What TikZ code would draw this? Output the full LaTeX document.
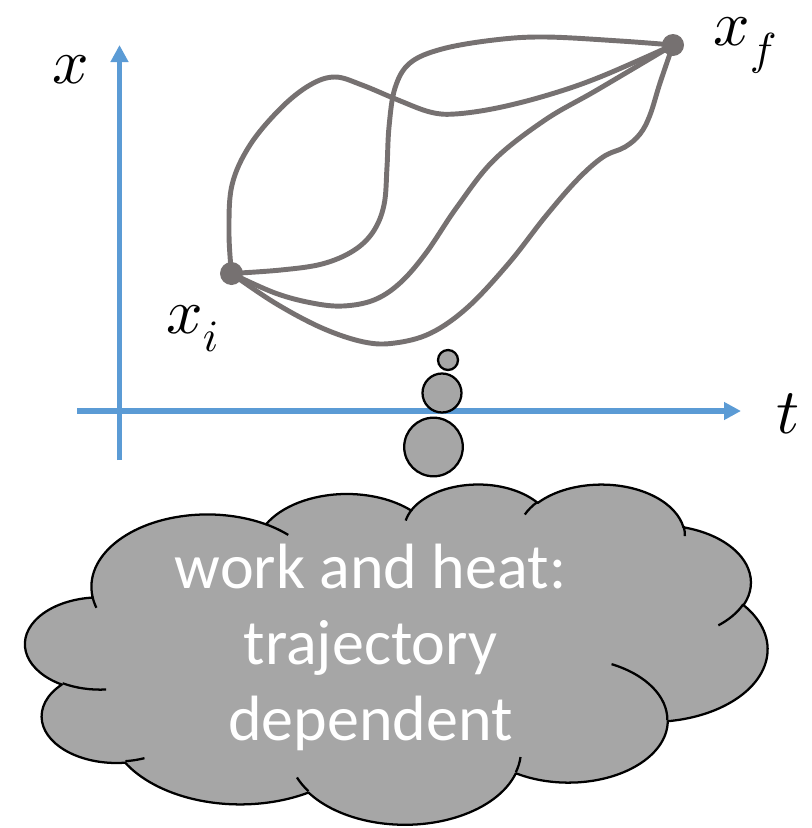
\documentclass[tikz,border=0pt]{standalone}
\usepackage{fontspec}
\newfontfamily\carlito{Carlito}
\DeclareFontFamily{OML}{cmm}{\skewchar\font'177}
\DeclareFontShape{OML}{cmm}{m}{it}{<-> cmmi10}{}
\usetikzlibrary{arrows.meta}
\definecolor{axisblue}{RGB}{91,155,213}
\definecolor{trajgray}{RGB}{118,113,113}
\definecolor{cloudgray}{RGB}{166,166,166}
\tikzset{
  axisline/.style={draw=axisblue, line width=4pt, -{Triangle[length=12.75pt,width=12.75pt]}},
  traj/.style={draw=trajgray, line width=3.7pt, line join=round, line cap=round},
  enddot/.style={fill=trajgray},
  bubble/.style={fill=cloudgray, draw=black, line width=1.7pt},
  mathlbl/.style={font=\fontsize{48}{56}\selectfont, inner sep=0pt},
  ooarc/.style n args={4}{insert path={arc[x radius=#1, y radius=#2,
     start angle={atan2((#1)*sin(#3),(#2)*cos(#3))},
     delta angle={mod(atan2((#1)*sin((#3)+(#4)),(#2)*cos((#3)+(#4)))-atan2((#1)*sin(#3),(#2)*cos(#3))+720,360)}]}}
}
\begin{document}
\begin{tikzpicture}[x=0.75pt, y=-0.75pt]
\useasboundingbox (0,0) rectangle (812,828);
% axes
\coordinate (yb) at (119.5,460);
\coordinate (yt) at (119.5,45);
\coordinate (xl) at (77,411);
\coordinate (xr) at (741,411);
\draw[axisline] (yb) -- (yt);
\draw[axisline] (xl) -- (xr);
% labels
\node[mathlbl, anchor=base] (lx) at (71,83) {$x$};
\node[mathlbl, anchor=base west] (lt) at (776,433) {$t$};
\node[mathlbl, anchor=base west] (lxf) at (713,45) {$x_f$};
\node[mathlbl, anchor=base west] (lxi) at (166,333) {$x_i$};
% end points
\coordinate (xi) at (231.5,273.5);
\coordinate (xf) at (673,45);
% trajectories
\draw[traj] plot[smooth, tension=0.6] coordinates {(xi) (229,233) (232,185) (250,145) (281,108) (310,85) (335,77) (362,85) (398,100) (430,112) (455,114) (497,108) (548,95) (600,77) (xf)};
\draw[traj] plot[smooth, tension=0.6] coordinates {(xi) (281,270) (322,264) (353,251) (373,232) (384,205) (387,167) (389,127) (395,88) (410,63) (442,49) (494,40) (545,37) (620,41) (xf)};
\draw[traj] plot[smooth, tension=0.6] coordinates {(xi) (275,293) (312,303) (343,306) (374,300) (400,283) (426,253) (457,207) (494,160) (545,120) (597,90) (xf)};
\draw[traj] plot[smooth, tension=0.6] coordinates {(xi) (275,303) (322,328) (364,342) (395,343) (431,333) (468,307) (509,263) (545,217) (577,180) (603,157) (625,147) (640,134) (650,115) (660,83) (xf)};
\fill[enddot] (xi) circle[radius=11.5];
\fill[enddot] (xf) circle[radius=11];
% thought bubbles
\draw[bubble] (448,360) circle[radius=10];
\draw[bubble] (442,393) circle[radius=19.5];
\draw[bubble] (433.5,447) circle[radius=29.3];
% cloud
\begin{scope}[shift={(25.5,483.4)}, x=0.012884pt, y=-0.005909pt]
\filldraw[fill=cloudgray, draw=black, line width=1.7pt, line join=round]
  (3900,14370)
  [ooarc={6753}{9190}{-190.48749}{123.78053}]
  [ooarc={5333}{7267}{-144.10238}{89.94523}]
  [ooarc={4365}{5945}{-145.80792}{99.72302}]
  [ooarc={4857}{6595}{-130.98607}{117.24173}]
  [ooarc={5333}{7273}{-78.70888}{109.02692}]
  [ooarc={6775}{9220}{-46.26725}{130.269}]
  [ooarc={5785}{7867}{0.62502}{114.03333}]
  [ooarc={6752}{9215}{22.4516}{115.17255}]
  [ooarc={7720}{10543}{66.24263}{75.71102}]
  [ooarc={4360}{5918}{-274.94208}{146.73557}]
  [ooarc={4345}{5945}{-246.8285}{152.51885}]
  -- cycle;
\draw[black, line width=1.7pt]
  (4693,26177) [ooarc={4345}{5945}{86.742}{26.4295}]
  (6928,34899) [ooarc={4360}{5918}{73.61047}{11.44747}]
  (16478,39090) [ooarc={6752}{9215}{137.62415}{14.0811}]
  (28827,34751) [ooarc={6752}{9215}{6.45327}{15.99835}]
  (34129,22954) [ooarc={5785}{7867}{-70.29235}{70.91737}]
  (41798,15354) [ooarc={5333}{7273}{30.31803}{27.7515}]
  (38324,5426) [ooarc={4857}{6595}{-13.74433}{14.8589}]
  (29078,3952) [ooarc={4857}{6595}{-149.18145}{18.19537}]
  (22141,4720) [ooarc={4365}{5945}{-163.49427}{17.68635}]
  (14000,5192) [ooarc={6753}{9190}{-66.70695}{12.31935}]
  (4127,15789) [ooarc={6753}{9190}{157.65435}{11.85817}];
\end{scope}
\node[font=\carlito\fontsize{48}{57}\selectfont, text=white, align=center, anchor=base, inner sep=0pt] (msg) at (370.5,740) {work and heat:\\trajectory\\dependent};
\end{tikzpicture}
\end{document}
